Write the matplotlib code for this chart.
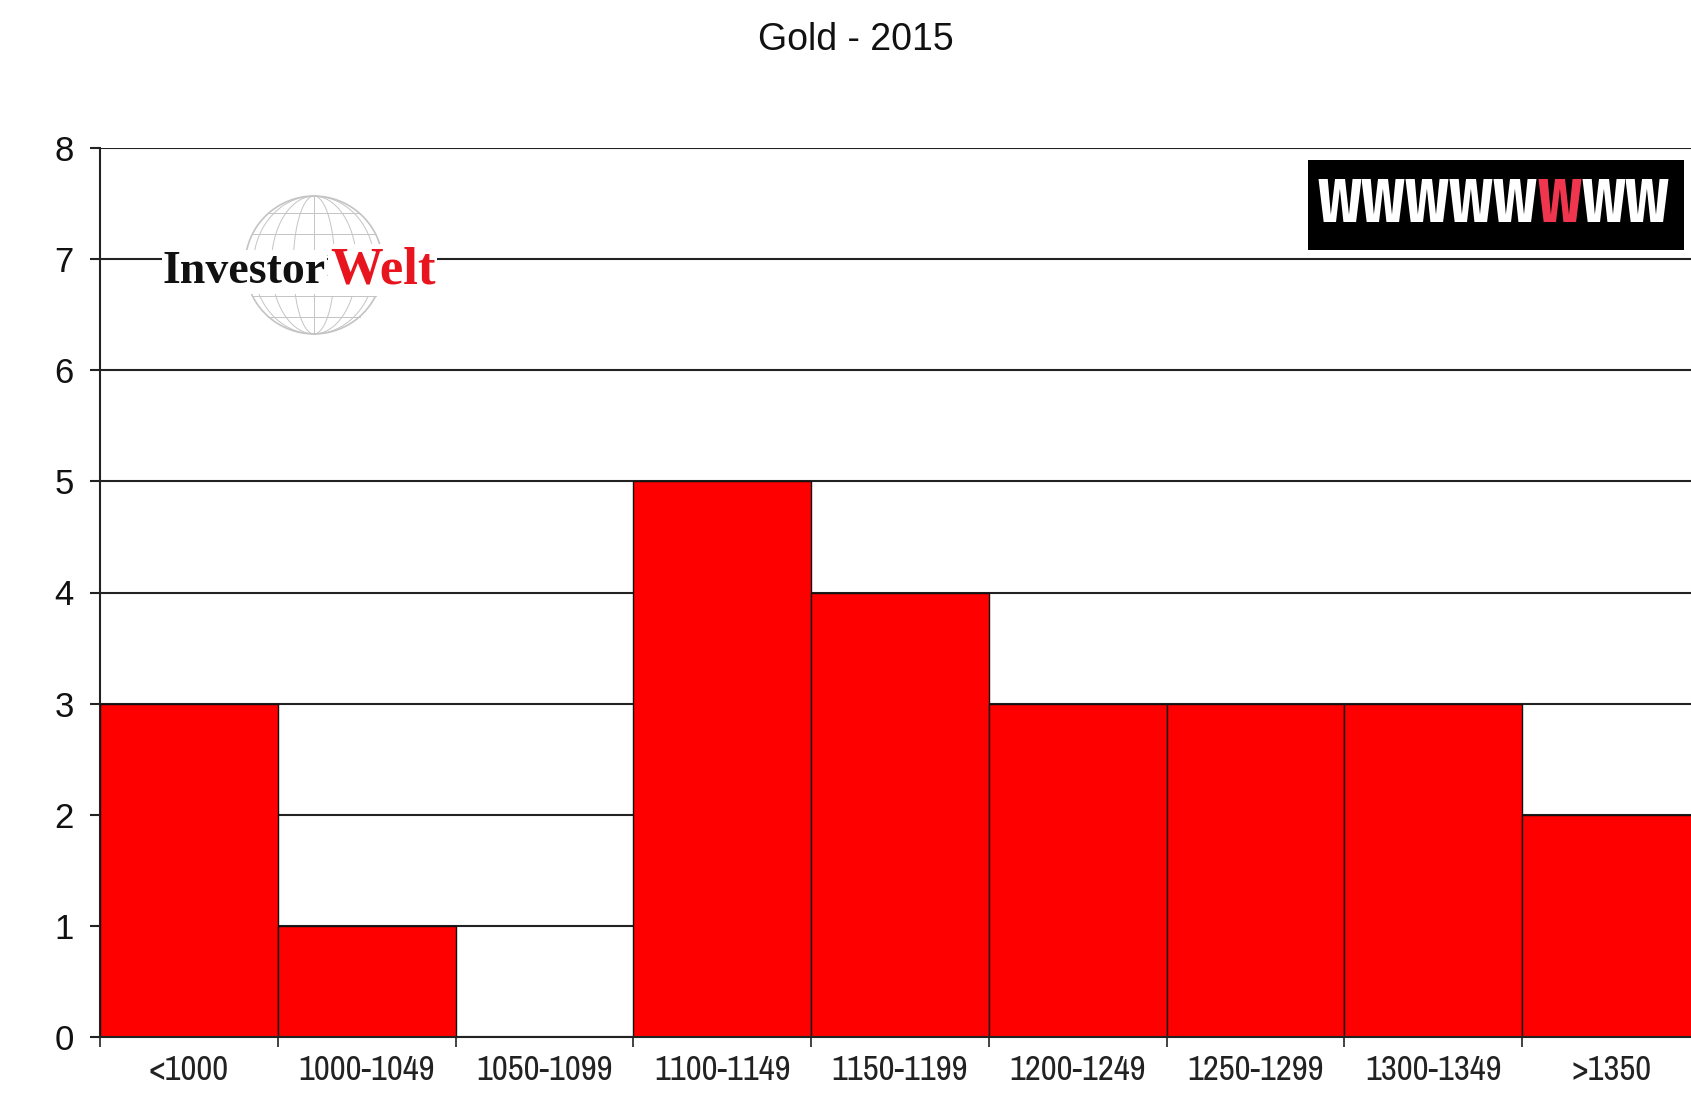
import matplotlib
matplotlib.use("Agg")
import matplotlib.pyplot as plt
import numpy as np
from matplotlib import font_manager as fm

W, H = 1691, 1097
names = {f.name for f in fm.fontManager.ttflist}

def pick(*cands):
    for c in cands:
        if c in names:
            return c
    return "DejaVu Sans"

NARROW = pick("Archivo Narrow", "PT Sans Narrow", "Roboto Condensed", "Liberation Sans")
CONDB = pick("Fira Sans Extra Condensed", "Roboto Condensed", "Barlow Condensed", "Liberation Sans")
SANS = pick("Liberation Sans", "Arimo", "DejaVu Sans")
SERIF = pick("Liberation Serif", "Tinos", "DejaVu Serif")

categories = ["<1000", "1000-1049", "1050-1099", "1100-1149", "1150-1199",
              "1200-1249", "1250-1299", "1300-1349", ">1350"]
counts = [3, 1, 0, 5, 4, 3, 3, 3, 2]
yticks = [0, 1, 2, 3, 4, 5, 6, 7, 8]
title = "Gold - 2015"

fig = plt.figure(figsize=(W / 100, H / 100), dpi=100)
fig.patch.set_facecolor("white")

def fx(px):
    return px / W

def fy(py):
    return 1 - py / H

ax_left, ax_right, ax_top, ax_bot = 100, 1700, 148, 1037
ax = fig.add_axes([fx(ax_left), fy(ax_bot), fx(ax_right - ax_left), (ax_bot - ax_top) / H])

x = np.arange(len(categories))
ax.bar(x, counts, width=1.0, align="edge", color="#ff0000", edgecolor="#111111",
       linewidth=1.0, zorder=3)
ax.set_xlim(0, len(categories))
ax.set_ylim(0, 8)
ax.set_yticks(yticks)
ax.set_yticklabels([str(v) for v in yticks], fontsize=25, family=SANS, color="#111111")
ax.set_xticks(x + 0.5)
ax.set_xticklabels(categories, fontsize=25, family=NARROW, color="#222222")
ax.set_xticks(np.arange(len(categories) + 1), minor=True)
ax.tick_params(axis="x", which="major", length=0, pad=12)
ax.tick_params(axis="x", which="minor", length=7, width=1.2, direction="out", color="#222222")
ax.tick_params(axis="y", length=7, width=1.5, direction="out", pad=12, color="#222222")
ax.yaxis.grid(True, color="#222222", linewidth=1.5, zorder=1)
ax.set_axisbelow(True)
for s in ["top", "right"]:
    ax.spines[s].set_visible(False)
ax.spines["left"].set_color("#222222")
ax.spines["left"].set_linewidth(1.5)
ax.spines["bottom"].set_color("#222222")
ax.spines["bottom"].set_linewidth(1.5)
ax.spines["bottom"].set_zorder(4)

fig.text(fx(856), fy(40), title, ha="center", va="center", fontsize=27,
         family=SANS, color="#111111")

# Globe logo
gcx, gcy, gr = 314, 265, 69
gax = fig.add_axes([fx(gcx - gr - 2), fy(gcy + gr + 2), fx(2 * gr + 4), (2 * gr + 4) / H])
gax.set_xlim(-1.03, 1.03)
gax.set_ylim(-1.03, 1.03)
gax.set_aspect("equal")
gax.axis("off")
t = np.linspace(0, 2 * np.pi, 200)
gcol = "#c4c4c4"
gax.plot(np.cos(t), np.sin(t), color=gcol, lw=1.2)
for k in [0.3, 0.62, 0.88]:
    gax.plot(k * np.cos(t), np.sin(t), color=gcol, lw=0.7)
gax.plot([0, 0], [-1, 1], color=gcol, lw=0.7)
for yy in [-0.75, -0.45, -0.15, 0.15, 0.45, 0.75]:
    hw = np.sqrt(1 - yy ** 2)
    gax.plot([-hw, hw], [yy, yy], color=gcol, lw=0.7)

fig.text(fx(326), fy(283), "Investor", ha="right", va="baseline", fontsize=33,
         family=SERIF, weight="bold", color="#111111",
         bbox=dict(facecolor="white", edgecolor="none", pad=1))
fig.text(fx(330), fy(283), "Welt", ha="left", va="baseline", fontsize=38,
         family=SERIF, weight="bold", color="#e8141e",
         bbox=dict(facecolor="white", edgecolor="none", pad=1))

# WWW logo box
bx0, bx1, by0, by1 = 1308, 1684, 160, 250
box = plt.Rectangle((fx(bx0), fy(by1)), fx(bx1 - bx0), (by1 - by0) / H,
                    transform=fig.transFigure, facecolor="black", edgecolor="none", zorder=5)
fig.add_artist(box)
logo_parts = ["WWWWW", "W", "WW"]
logo_cols = ["white", "#f0364f", "white"]
renderer = fig.canvas.get_renderer()
probe = fig.text(0, 0, "".join(logo_parts), fontsize=50, family=CONDB, weight="bold")
wpx = probe.get_window_extent(renderer).width
probe.remove()
fs = 50 * 352 / wpx
xcur = 1317
for part, col in zip(logo_parts, logo_cols):
    tx = fig.text(fx(xcur), fy(206), part, ha="left", va="center", fontsize=fs,
                  family=CONDB, weight="bold", color=col, zorder=6)
    xcur += tx.get_window_extent(renderer).width

fig.savefig("out.png", dpi=100)
